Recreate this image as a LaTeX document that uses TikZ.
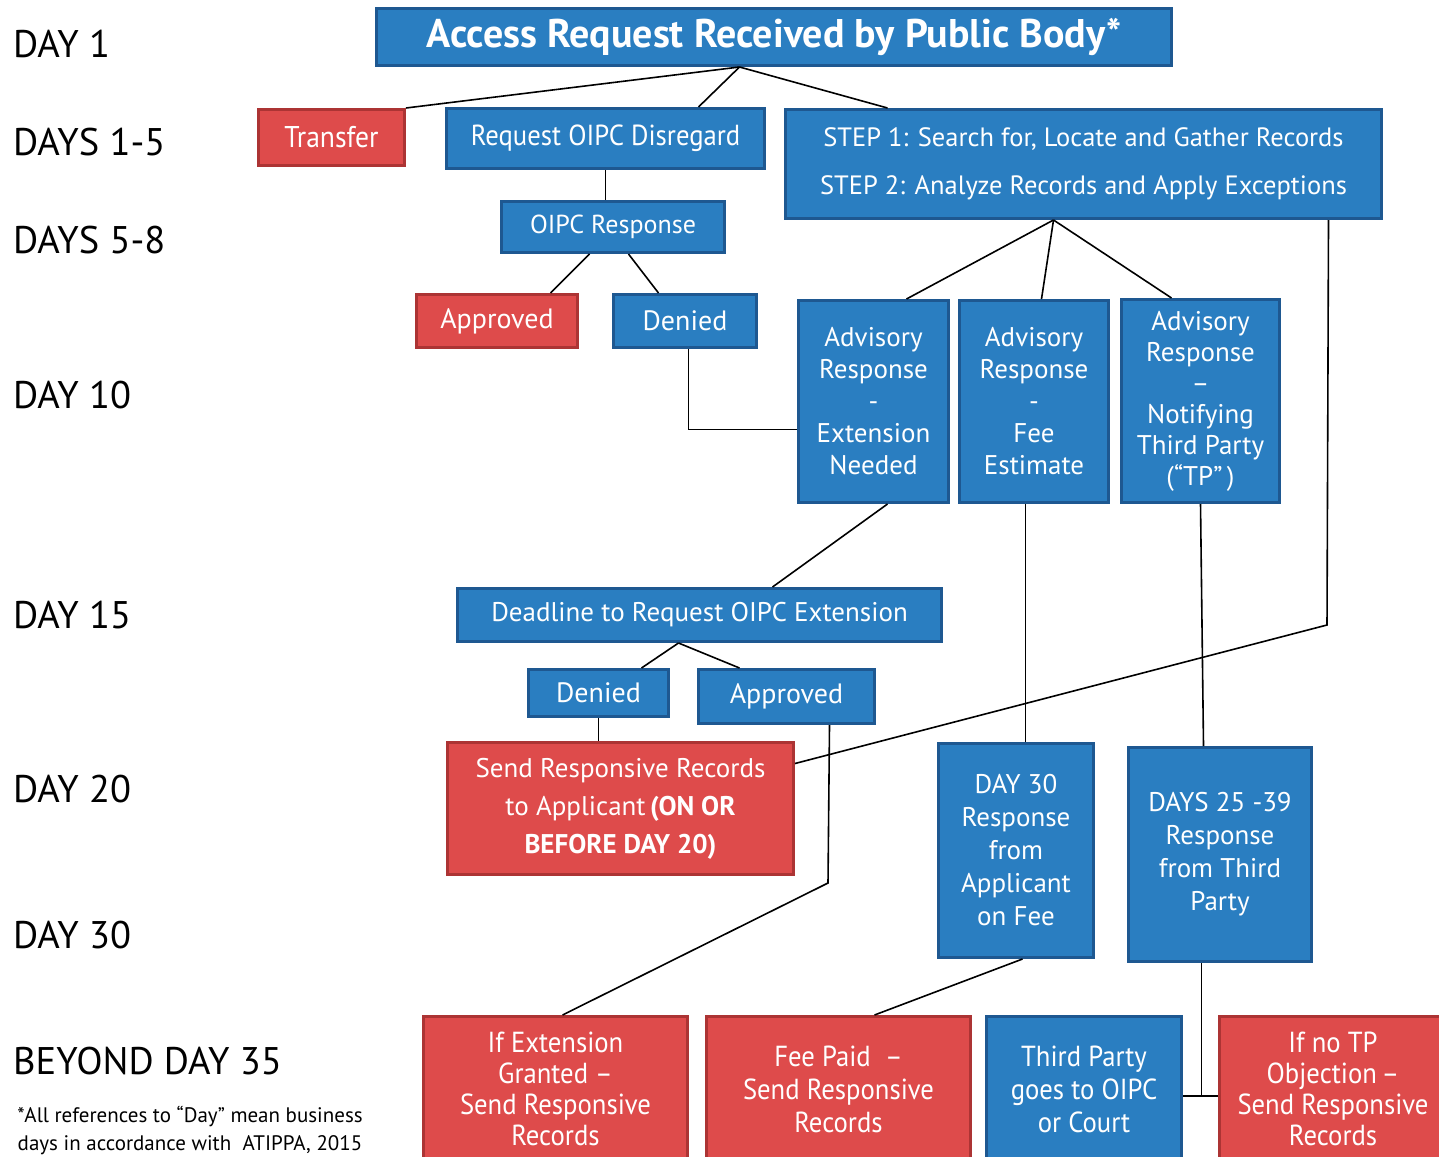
\documentclass[tikz,border=0pt]{standalone}
\usepackage{fontspec}
\setmainfont{PT Sans}
\newfontfamily\narrowfont[FakeStretch=0.92]{PT Sans}
\usepackage{tikz}
\usetikzlibrary{positioning}
\definecolor{boxblue}{RGB}{42,126,193}
\definecolor{edgeblue}{RGB}{30,88,145}
\definecolor{boxred}{RGB}{222,75,75}
\definecolor{edgered}{RGB}{172,52,52}
\tikzset{blue node/.style={rectangle,fill=boxblue,draw=edgeblue,line width=3pt,text=white,align=center,anchor=north west,inner sep=0pt}}
\tikzset{red node/.style={blue node,fill=boxred,draw=edgered}}
\tikzset{day label/.style={anchor=west,inner sep=0pt,font=\fontsize{38.5}{40}\selectfont}}
\tikzset{link/.style={line width=1.6pt,black}}

\begin{document}
\begin{tikzpicture}[x=1pt,y=-1pt]
    \useasboundingbox (0,0) rectangle (1439,1156);
    \clip (0,0) rectangle (1439,1156);
    \fill[white] (0,0) rectangle (1439,1156);

    % days down the left side
    \node[day label] (d1) at (13,44) {DAY 1};
    \node[day label] (d2) at (13,142) {DAYS 1-5};
    \node[day label] (d3) at (13,240) {DAYS 5-8};
    \node[day label] (d4) at (13,395) {DAY 10};
    \node[day label] (d5) at (13,615) {DAY 15};
    \node[day label] (d6) at (13,789) {DAY 20};
    \node[day label] (d7) at (13,935) {DAY 30};
    \node[day label] (d8) at (13,1061) {BEYOND DAY 35};
    \node[align=center,inner sep=0pt,font=\fontsize{21}{28}\selectfont] (note) at (190,1130)
        {*All references to ``Day'' mean business\\ days in accordance with\ \ ATIPPA, 2015};

    % boxes
    \node[blue node,minimum width=795,minimum height=57,font=\bfseries\fontsize{40}{44}\selectfont] (title) at (375,7) {Access Request Received by Public Body*};
    \node[red node,minimum width=146,minimum height=56,font=\narrowfont\fontsize{30}{32}\selectfont] (transfer) at (257,108) {Transfer};
    \node[blue node,minimum width=318,minimum height=60,font=\narrowfont\fontsize{29}{31}\selectfont] (disregard) at (445,107) {Request OIPC Disregard};
    \node[blue node,minimum width=596,minimum height=109,font=\fontsize{26.5}{48}\selectfont] (step) at (784,108)
        {STEP 1: Search for, Locate and Gather Records\\ STEP 2: Analyze Records and Apply Exceptions};
    \node[blue node,minimum width=223,minimum height=51,font=\fontsize{26}{30}\selectfont] (oipcresp) at (500,200) {OIPC Response};
    \node[red node,minimum width=161,minimum height=53,font=\fontsize{28}{30}\selectfont] (approved1) at (415,293) {Approved};
    \node[blue node,minimum width=143,minimum height=53,font=\fontsize{28}{30}\selectfont] (denied1) at (612,293) {Denied};
    \node[blue node,minimum width=150,minimum height=202,font=\fontsize{27}{32}\selectfont] (advext) at (797,299)
        {Advisory\\ Response\\ -\\ Extension\\ Needed};
    \node[blue node,minimum width=149,minimum height=202,font=\fontsize{27}{32}\selectfont] (advfee) at (958,299)
        {Advisory\\ Response\\ -\\ Fee\\ Estimate};
    \node[blue node,minimum width=158,minimum height=203,font=\fontsize{27}{31}\selectfont] (advtp) at (1120,298)
        {Advisory\\ Response\\ –\\ Notifying\\ Third Party\\ (“TP”\,)};
    \node[blue node,minimum width=484,minimum height=53,font=\fontsize{27}{30}\selectfont] (deadline) at (456,587) {Deadline to Request OIPC Extension};
    \node[blue node,minimum width=140,minimum height=47,font=\fontsize{28}{30}\selectfont] (denied2) at (527,668) {Denied};
    \node[blue node,minimum width=176,minimum height=54,font=\fontsize{28}{30}\selectfont] (approved2) at (697,668) {Approved};
    \node[red node,minimum width=346,minimum height=132,font=\fontsize{27}{38}\selectfont] (send) at (446,741)
        {Send Responsive Records\\ to Applicant\,\textbf{(ON OR}\\ \textbf{BEFORE DAY 20)}};
    \node[blue node,minimum width=155,minimum height=214,font=\fontsize{27}{33}\selectfont] (day30) at (937,742)
        {DAY 30\\ Response\\ from\\ Applicant\\ on Fee};
    \node[blue node,minimum width=183,minimum height=214,font=\fontsize{27}{33}\selectfont] (days25) at (1127,746)
        {DAYS 25 -39\\ Response\\ from Third\\ Party};
    \node[red node,minimum width=264,minimum height=145,font=\narrowfont\fontsize{29}{31}\selectfont] (extgranted) at (422,1015)
        {If Extension\\ Granted –\\ Send Responsive\\ Records};
    \node[red node,minimum width=264,minimum height=145,font=\narrowfont\fontsize{29}{33}\selectfont] (feepaid) at (705,1015)
        {Fee Paid\ \ –\\ Send Responsive\\ Records};
    \node[blue node,minimum width=195,minimum height=145,font=\narrowfont\fontsize{29}{33}\selectfont] (thirdoipc) at (985,1015)
        {Third Party\\ goes to OIPC\\ or Court};
    \node[red node,minimum width=227,minimum height=145,font=\narrowfont\fontsize{29}{31}\selectfont] (notp) at (1218,1015)
        {If no TP\\ Objection\,–\\ Send Responsive\\ Records};

    % bends
    \coordinate (bend1) at (1327,625);
    \coordinate (bend2) at (828,883);

    % connectors
    \draw[link] ([xshift=-34.5]title.south) -- (transfer.north east);
    \draw[link] ([xshift=-34.5]title.south) -- ([xshift=93]disregard.north);
    \draw[link] ([xshift=-34.5]title.south) -- ([xshift=-196]step.north);
    \draw[link] (disregard.south) -- (disregard.south |- oipcresp.north);
    \draw[link] ([xshift=-23.5]oipcresp.south) -- ([xshift=53.5]approved1.north);
    \draw[link] ([xshift=15.5]oipcresp.south) -- ([xshift=-26.5]denied1.north);
    \draw[link] ([xshift=3.5]denied1.south) |- ([yshift=-28]advext.west);
    \draw[link] ([xshift=-30]step.south) -- ([xshift=33]advext.north);
    \draw[link] ([xshift=-30]step.south) -- ([xshift=7.5]advfee.north);
    \draw[link] ([xshift=-30]step.south) -- ([xshift=-29]advtp.north);
    \draw[link] ([xshift=245]step.south) -- (bend1) -- ([yshift=45]send.east);
    \draw[link] ([xshift=14]advext.south) -- ([xshift=73]deadline.north);
    \draw[link] ([xshift=-21]deadline.south) -- ([xshift=43]denied2.north);
    \draw[link] ([xshift=-21]deadline.south) -- ([xshift=-47]approved2.north);
    \draw[link] (denied2.south) -- ([xshift=-22]send.north);
    \draw[link] ([xshift=43]approved2.south) -- (bend2) -- ([xshift=7]extgranted.north);
    \draw[link] ([xshift=-8.5]advfee.south) -- ([xshift=9.5]day30.north);
    \draw[link] (advtp.south) -- ([xshift=-16.5]days25.north);
    \draw[link] ([xshift=6.5]day30.south) -- ([xshift=36]feepaid.north);
    \draw[link] ([xshift=-18.5]days25.south) -- ([xshift=-18.5,yshift=-7]days25.south |- notp.west);
    \draw[link] ([yshift=-7]thirdoipc.east) -- ([yshift=-7]notp.west);
\end{tikzpicture}
\end{document}
